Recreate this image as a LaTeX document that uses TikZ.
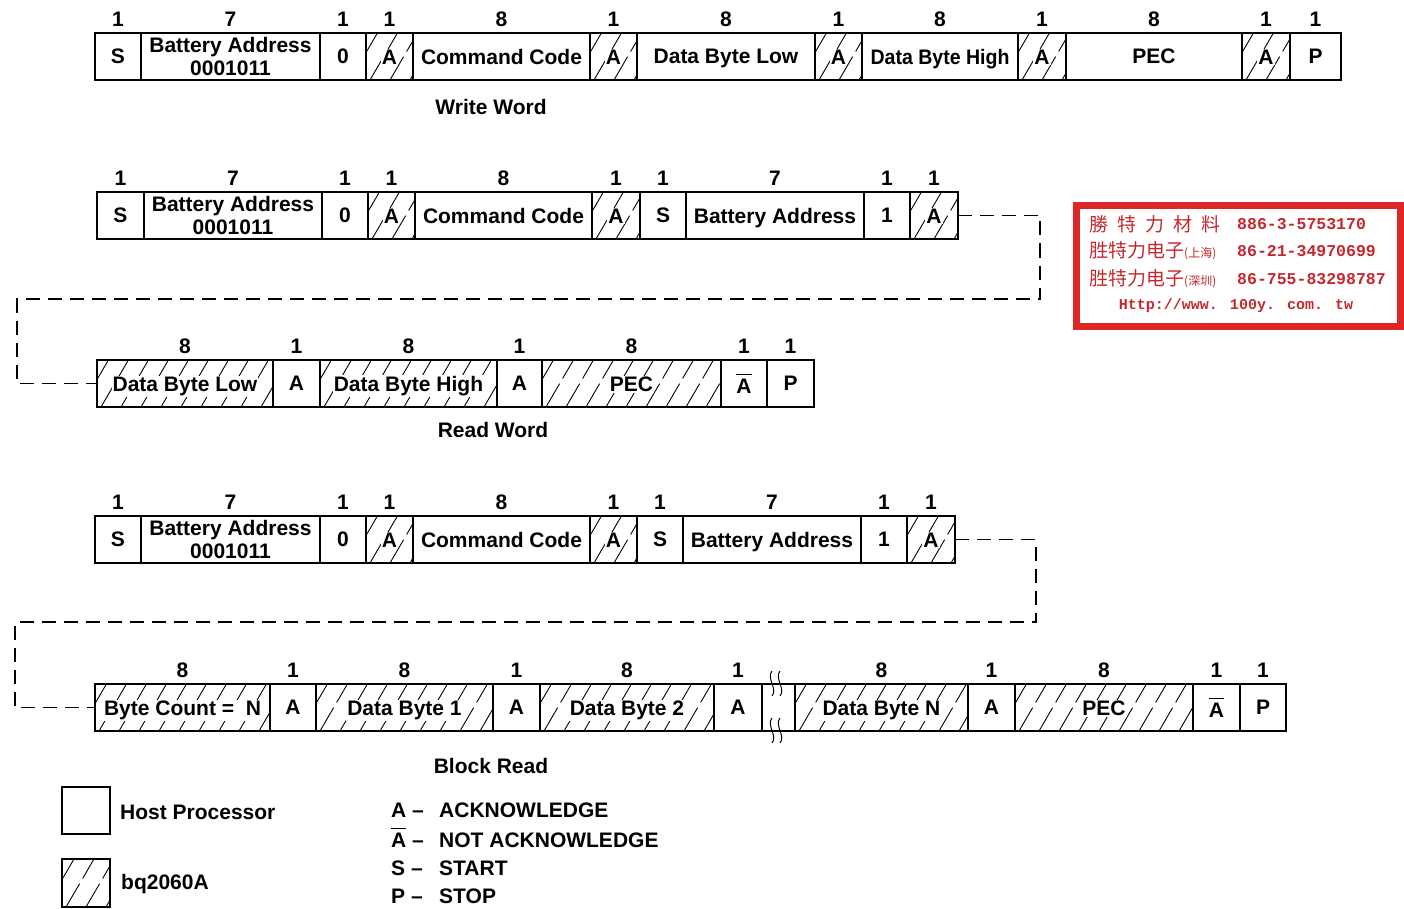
\documentclass[tikz,border=0pt]{standalone}
\usepackage{fontspec}
\setmainfont{Liberation Sans}
\newfontfamily\cjk{Noto Sans CJK TC}
\newfontfamily\stampmono{Liberation Mono}
\usepackage{xcolor}
\usepackage{graphicx}
\usepackage{tikz}
\usetikzlibrary{positioning}

\definecolor{stampred}{RGB}{222,38,38}
\definecolor{stampink}{RGB}{196,40,46}

\newcommand{\lbl}{\fontsize{21}{23}\selectfont\bfseries}
\newcommand{\wb}[1]{{\setlength{\fboxsep}{1pt}\colorbox{white}{#1}}}
\newcommand{\nack}{$\overline{\raisebox{0pt}[17.5pt][0pt]{A}}$}

\begin{document}
\begin{tikzpicture}[x=1pt, y=-1pt,
        node distance=0pt,
        cell/.style={draw, line width=1.8pt, minimum height=47pt, inner sep=0pt, outer sep=0pt, text depth=0pt, align=center, font=\lbl},
        hatched/.style={cell, path picture={
            \foreach \k in {-2,...,10}
              \draw[line width=0.9pt, dash pattern=on 27pt off 6pt]
                ([xshift=\k*20pt+4pt]path picture bounding box.south west) -- ++(28pt,48pt);}},
        bits/.style={inner sep=0pt, font=\lbl},
        caption/.style={inner sep=0pt, font=\lbl},
        link/.style={line width=1.3pt, dash pattern=on 14pt off 8pt},
        stamptext/.style={inner sep=0pt, anchor=west, text=stampink}
    ]
    \useasboundingbox (0,0) rectangle (1404,909);

    % Write Word
    \node[cell, minimum width=46pt, anchor=west] (ws) at (95,56.5) {S};
    \node[cell, minimum width=179pt, right=of ws] (wadr) {Battery Address\\0001011};
    \node[cell, minimum width=46pt, right=of wadr] (wrw) {0};
    \node[hatched, minimum width=47pt, right=of wrw] (wa1) {\wb{A}};
    \node[cell, minimum width=177pt, right=of wa1] (wcmd) {Command Code};
    \node[hatched, minimum width=47pt, right=of wcmd] (wa2) {\wb{A}};
    \node[cell, minimum width=178pt, right=of wa2] (wlow) {Data Byte Low};
    \node[hatched, minimum width=47pt, right=of wlow] (wa3) {\wb{A}};
    \node[cell, minimum width=156pt, right=of wa3] (whigh) {\scalebox{0.93}[1]{Data Byte High}};
    \node[hatched, minimum width=48pt, right=of whigh] (wa4) {\wb{A}};
    \node[cell, minimum width=176pt, right=of wa4] (wpec) {PEC};
    \node[hatched, minimum width=48pt, right=of wpec] (wa5) {\wb{A}};
    \node[cell, minimum width=51pt, right=of wa5] (wp) {P};
    \foreach \c/\n in {ws/1, wadr/7, wrw/1, wa1/1, wcmd/8, wa2/1, wlow/8, wa3/1, whigh/8, wa4/1, wpec/8, wa5/1, wp/1}
        \node[bits, above=6pt of \c] (n\c) {\n};
    \node[caption] (wtitle) at (491,107) {Write Word};

    % Read Word, first line
    \node[cell, minimum width=47pt, anchor=west] (rs) at (97,215.5) {S};
    \node[cell, minimum width=178pt, right=of rs] (radr) {Battery Address\\0001011};
    \node[cell, minimum width=46pt, right=of radr] (rrw) {0};
    \node[hatched, minimum width=47pt, right=of rrw] (ra1) {\wb{A}};
    \node[cell, minimum width=177pt, right=of ra1] (rcmd) {Command Code};
    \node[hatched, minimum width=48pt, right=of rcmd] (ra2) {\wb{A}};
    \node[cell, minimum width=46pt, right=of ra2] (rs2) {S};
    \node[cell, minimum width=178pt, right=of rs2] (radr2) {Battery Address};
    \node[cell, minimum width=46pt, right=of radr2] (rrd) {1};
    \node[hatched, minimum width=48pt, right=of rrd] (ra3) {\wb{A}};
    \foreach \c/\n in {rs/1, radr/7, rrw/1, ra1/1, rcmd/8, ra2/1, rs2/1, radr2/7, rrd/1, ra3/1}
        \node[bits, above=6pt of \c] (n\c) {\n};

    % Read Word, second line
    \node[hatched, minimum width=176pt, anchor=west] (rlow) at (97,383.5) {\wb{Data Byte Low}};
    \node[cell, minimum width=47pt, right=of rlow] (rack1) {A};
    \node[hatched, minimum width=177pt, right=of rack1] (rhigh) {\wb{Data Byte High}};
    \node[cell, minimum width=45pt, right=of rhigh] (rack2) {A};
    \node[hatched, minimum width=179pt, right=of rack2] (rpec) {\wb{PEC}};
    \node[cell, minimum width=46pt, right=of rpec] (rnack) {\nack};
    \node[cell, minimum width=47pt, right=of rnack] (rp) {P};
    \foreach \c/\n in {rlow/8, rack1/1, rhigh/8, rack2/1, rpec/8, rnack/1, rp/1}
        \node[bits, above=6pt of \c] (n\c) {\n};
    \node[caption] (rtitle) at (493,430) {Read Word};

    \coordinate (rc1) at (1040,299);
    \coordinate (rc2) at (17,299);
    \draw[link] (ra3.east) -| (rc1) -- (rc2) |- (rlow.west);

    % Block Read, first line
    \node[cell, minimum width=46pt, anchor=west] (bs) at (95,539.5) {S};
    \node[cell, minimum width=179pt, right=of bs] (badr) {Battery Address\\0001011};
    \node[cell, minimum width=46pt, right=of badr] (brw) {0};
    \node[hatched, minimum width=47pt, right=of brw] (ba1) {\wb{A}};
    \node[cell, minimum width=177pt, right=of ba1] (bcmd) {Command Code};
    \node[hatched, minimum width=47pt, right=of bcmd] (ba2) {\wb{A}};
    \node[cell, minimum width=46pt, right=of ba2] (bs2) {S};
    \node[cell, minimum width=178pt, right=of bs2] (badr2) {Battery Address};
    \node[cell, minimum width=46pt, right=of badr2] (brd) {1};
    \node[hatched, minimum width=48pt, right=of brd] (ba3) {\wb{A}};
    \foreach \c/\n in {bs/1, badr/7, brw/1, ba1/1, bcmd/8, ba2/1, bs2/1, badr2/7, brd/1, ba3/1}
        \node[bits, above=6pt of \c] (n\c) {\n};

    % Block Read, second line
    \node[hatched, minimum width=175pt, anchor=west] (bcount) at (95,707.5) {\wb{Byte Count =\ \ N}};
    \node[cell, minimum width=46pt, right=of bcount] (back1) {A};
    \node[hatched, minimum width=177pt, right=of back1] (bd1) {\wb{Data Byte 1}};
    \node[cell, minimum width=47pt, right=of bd1] (back2) {A};
    \node[hatched, minimum width=174pt, right=of back2] (bd2) {\wb{Data Byte 2}};
    \node[cell, minimum width=48pt, right=of bd2] (back3) {A};
    \node[hatched, minimum width=173pt, right=33pt of back3] (bdn) {\wb{Data Byte N}};
    \node[cell, minimum width=47pt, right=of bdn] (back4) {A};
    \node[hatched, minimum width=178pt, right=of back4] (bpec) {\wb{PEC}};
    \node[cell, minimum width=47pt, right=of bpec] (bnack) {\nack};
    \node[cell, minimum width=46pt, right=of bnack] (bp) {P};
    \foreach \c/\n in {bcount/8, back1/1, bd1/8, back2/1, bd2/8, back3/1, bdn/8, back4/1, bpec/8, bnack/1, bp/1}
        \node[bits, above=6pt of \c] (n\c) {\n};
    \node[caption] (btitle) at (491,766) {Block Read};

    \coordinate (bc1) at (1036,622);
    \coordinate (bc2) at (15,622);
    \draw[link] (ba3.east) -| (bc1) -- (bc2) |- (bcount.west);

    % break in the byte string
    \draw[line width=1.8pt] (back3.north east) -- (bdn.north west);
    \draw[line width=1.8pt] (back3.south east) -- (bdn.south west);
    \foreach \x in {772,780} {
        \draw[line width=1pt] (\x,671) .. controls (\x-6,678) and (\x+6,689) .. (\x,696);
        \draw[line width=1pt] (\x,718) .. controls (\x-6,725) and (\x+6,736) .. (\x,743);
    }

    % Legend
    \node[cell, minimum width=48pt, anchor=north west] (lhost) at (62,787) {};
    \node[hatched, minimum width=48pt, minimum height=48pt, anchor=north west] (lbq) at (62,859) {};
    \node[caption, anchor=base west] (lhosttxt) at (120,819) {Host Processor};
    \node[caption, anchor=base west] (lbqtxt) at (121,889) {bq2060A};

    \node[caption, anchor=base west] (ka) at (391,817) {A –};
    \node[caption, anchor=base west] (kna) at (391,847) {\nack\ –};
    \node[caption, anchor=base west] (ks) at (391,875) {S –};
    \node[caption, anchor=base west] (kp) at (391,903) {P –};
    \node[caption, anchor=base west] (kat) at (439,817) {ACKNOWLEDGE};
    \node[caption, anchor=base west] (knat) at (439,847) {NOT ACKNOWLEDGE};
    \node[caption, anchor=base west] (kst) at (439,875) {START};
    \node[caption, anchor=base west] (kpt) at (439,903) {STOP};

    % Stamp
    \node[draw=stampred, line width=7pt, minimum width=324pt, minimum height=121pt, inner sep=0pt, outer sep=0pt, anchor=north west] (stamp) at (1076.5,205.5) {};
    \node[stamptext, font=\cjk\fontsize{19}{19}\selectfont] (st1) at (1089,224) {勝\hspace{9pt}特\hspace{9pt}力\hspace{9pt}材\hspace{9pt}料};
    \node[stamptext, font=\cjk\fontsize{19}{19}\selectfont] (st2) at (1089,251) {胜特力电子{\fontsize{12}{12}\selectfont(上海)}};
    \node[stamptext, font=\cjk\fontsize{19}{19}\selectfont] (st3) at (1089,279) {胜特力电子{\fontsize{12}{12}\selectfont(深圳)}};
    \node[stamptext, font=\stampmono\bfseries\fontsize{16.5}{18}\selectfont] (sn1) at (1237,224) {886-3-5753170};
    \node[stamptext, font=\stampmono\bfseries\fontsize{16.5}{18}\selectfont] (sn2) at (1237,251) {86-21-34970699};
    \node[stamptext, font=\stampmono\bfseries\fontsize{16.5}{18}\selectfont] (sn3) at (1237,279) {86-755-83298787};
    \node[stamptext, anchor=center, font=\stampmono\bfseries\fontsize{15}{16}\selectfont] (surl) at (1236,306) {Http://www. 100y. com. tw};
\end{tikzpicture}
\end{document}
